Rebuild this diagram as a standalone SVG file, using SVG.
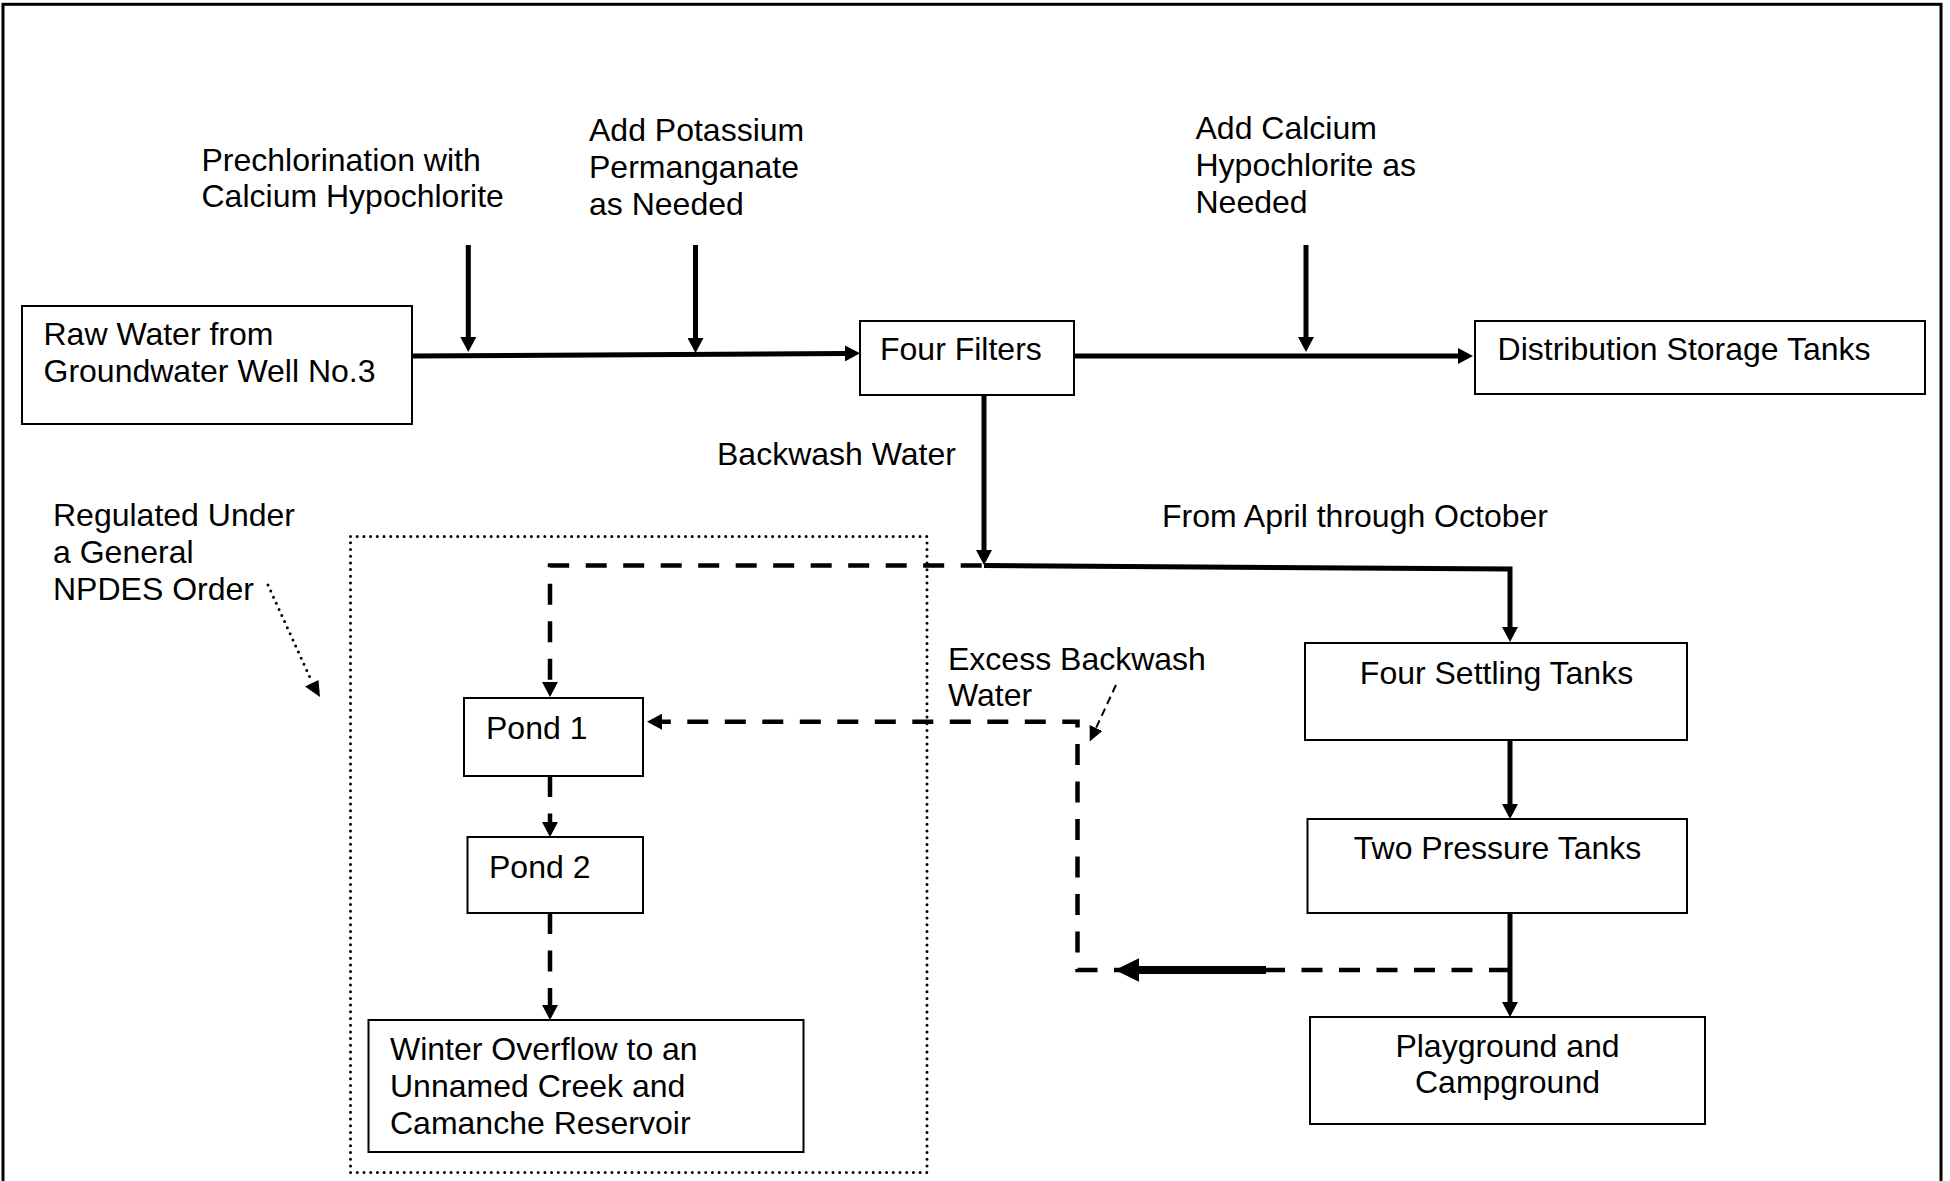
<svg xmlns="http://www.w3.org/2000/svg" width="1950" height="1181" viewBox="0 0 1950 1181">
<style>
  .box { fill: #ffffff; stroke: #000000; stroke-width: 2; }
  .t { font-family: "Liberation Sans", Arial, sans-serif; font-size: 32px; fill: #000000; }
  .mid { text-anchor: middle; }
  .solid { fill: none; stroke: #000000; stroke-width: 5; }
  .dash { fill: none; stroke: #000000; stroke-width: 4.5; stroke-dasharray: 21 16.5; }
  .dots { fill: none; stroke: #000000; stroke-width: 3; stroke-dasharray: 0 6.7; stroke-linecap: round; }
  .thin { fill: none; stroke: #000000; stroke-width: 2; stroke-dasharray: 8 5; }
</style>
<defs>
  <marker id="arr" markerUnits="userSpaceOnUse" markerWidth="16" markerHeight="16" refX="0" refY="8" orient="auto" viewBox="0 0 16 16">
    <path d="M0,0 L15,8 L0,16 Z" fill="#000000"/>
  </marker>
  <marker id="arrs" markerUnits="userSpaceOnUse" markerWidth="16" markerHeight="14" refX="0" refY="7" orient="auto" viewBox="0 0 16 14">
    <path d="M0,0 L15,7 L0,14 Z" fill="#000000"/>
  </marker>
</defs>

<rect x="3" y="4.3" width="1938" height="1200" fill="none" stroke="#000000" stroke-width="3"/>

<g id="connectors">
  <path class="solid" d="M412,356 L845,353.4" marker-end="url(#arr)"/>
  <path class="solid" d="M1074,356 L1458,356" marker-end="url(#arr)"/>
  <path class="solid" d="M468.3,245 L468.3,337" marker-end="url(#arr)"/>
  <path class="solid" d="M695.5,245 L695.5,338" marker-end="url(#arr)"/>
  <path class="solid" d="M1306,245 L1306,337" marker-end="url(#arr)"/>
  <path class="solid" d="M984,395 L984,550" marker-end="url(#arr)"/>
  <path class="solid" d="M984,565.5 L1510,569 L1510,627" marker-end="url(#arr)"/>
  <path class="solid" d="M1510,740 L1510,804" marker-end="url(#arr)"/>
  <path class="solid" d="M1510,913 L1510,1002" marker-end="url(#arr)"/>
  <path class="dash" d="M981.7,565.5 L550,565.5 L550,682" marker-end="url(#arr)"/>
  <path class="dash" d="M550,776 L550,822" marker-end="url(#arr)"/>
  <path class="dash" d="M550,913 L550,1005" marker-end="url(#arr)"/>
  <path class="dash" d="M1510,970 L1077.5,970 L1077.5,721.7 L662,721.7" marker-end="url(#arr)"/>
  <path d="M1266,970 L1137,970" fill="none" stroke="#000000" stroke-width="8"/>
  <polygon points="1115,970 1139,958.3 1139,981.7" fill="#000000"/>
  <path class="dots" d="M268,585 L312,682"/>
  <polygon points="320,697 305,686.5 318.5,680" fill="#000000"/>
  <path class="thin" d="M1116,685 L1096,728" marker-end="url(#arrs)"/>
  <rect class="dots" x="350.5" y="536.5" width="576.5" height="636"/>
</g>

<g id="prechlorination">
  <text class="t" x="201.5" y="170.5">Prechlorination with</text>
  <text class="t" x="201.5" y="207">Calcium Hypochlorite</text>
</g>
<g id="potassium">
  <text class="t" x="589" y="141">Add Potassium</text>
  <text class="t" x="589" y="178">Permanganate</text>
  <text class="t" x="589" y="215">as Needed</text>
</g>
<g id="calcium">
  <text class="t" x="1195.5" y="138.5">Add Calcium</text>
  <text class="t" x="1195.5" y="175.5">Hypochlorite as</text>
  <text class="t" x="1195.5" y="212.5">Needed</text>
</g>
<g id="raw-water">
  <rect class="box" x="22" y="306" width="390" height="118"/>
  <text class="t" x="43.5" y="345">Raw Water from</text>
  <text class="t" x="43.5" y="382">Groundwater Well No.3</text>
</g>
<g id="four-filters">
  <rect class="box" x="860" y="321" width="214" height="74"/>
  <text class="t" x="880" y="360">Four Filters</text>
</g>
<g id="distribution">
  <rect class="box" x="1475" y="321" width="450" height="73"/>
  <text class="t" x="1497.6" y="360">Distribution Storage Tanks</text>
</g>
<g id="backwash-label">
  <text class="t" x="717" y="465">Backwash Water</text>
</g>
<g id="april-label">
  <text class="t" x="1162" y="527">From April through October</text>
</g>
<g id="npdes-label">
  <text class="t" x="53" y="526">Regulated Under</text>
  <text class="t" x="53" y="563">a General</text>
  <text class="t" x="53" y="600">NPDES Order</text>
</g>
<g id="excess-label">
  <text class="t" x="948" y="670">Excess Backwash</text>
  <text class="t" x="948" y="706">Water</text>
</g>
<g id="pond1">
  <rect class="box" x="464" y="698" width="179" height="78"/>
  <text class="t" x="486" y="738.5">Pond 1</text>
</g>
<g id="pond2">
  <rect class="box" x="467.5" y="837" width="175.5" height="76"/>
  <text class="t" x="489" y="877.5">Pond 2</text>
</g>
<g id="winter-overflow">
  <rect class="box" x="368.5" y="1020" width="435" height="132"/>
  <text class="t" x="390" y="1060">Winter Overflow to an</text>
  <text class="t" x="390" y="1097">Unnamed Creek and</text>
  <text class="t" x="390" y="1134">Camanche Reservoir</text>
</g>
<g id="settling">
  <rect class="box" x="1305" y="643" width="382" height="97"/>
  <text class="t mid" x="1496.5" y="683.5">Four Settling Tanks</text>
</g>
<g id="pressure">
  <rect class="box" x="1307.5" y="819" width="379.5" height="94"/>
  <text class="t mid" x="1497.5" y="858.5">Two Pressure Tanks</text>
</g>
<g id="playground">
  <rect class="box" x="1310" y="1017" width="395" height="107"/>
  <text class="t mid" x="1507.5" y="1056.5">Playground and</text>
  <text class="t mid" x="1507.5" y="1093">Campground</text>
</g>
</svg>
